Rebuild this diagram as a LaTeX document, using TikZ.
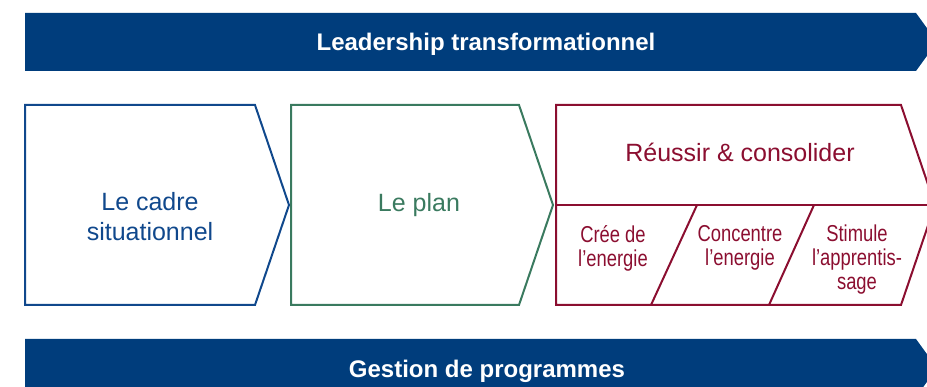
\documentclass[tikz,border=0pt]{standalone}
\usepackage{fontspec}
\setmainfont{Liberation Sans}
\newfontfamily\condfont[FakeStretch=0.8]{Liberation Sans}

\definecolor{bannerblue}{RGB}{0,61,124}
\definecolor{cadreblue}{RGB}{16,72,140}
\definecolor{plangreen}{RGB}{58,122,95}
\definecolor{reussired}{RGB}{139,14,48}

\newcommand\boxtop{105}
\newcommand\boxmid{205}
\newcommand\boxbot{305}
\newcommand\tipwidth{34}
\newcommand\phasebox[3]{
  \draw[phase, #1] (#2, \boxtop) -- (#3, \boxtop) -- ++ (\tipwidth, 100) -- (#3, \boxbot) -- (#2, \boxbot) -- cycle ;
}
\newcommand\banner[2]{
  \fill[bannerblue] (25, #1) -- (916, #1) -- ++ (21, 29) -- (916, #2) -- (25, #2) -- cycle ;
}

\tikzset{
  phase/.style={line width=2pt, line join=miter},
  bannertext/.style={text=white, font=\bfseries\fontsize{24}{28}\selectfont, anchor=base, inner sep=0pt},
  phasetext/.style={font=\fontsize{25}{30}\selectfont, align=center, inner sep=0pt},
  steptext/.style={text=reussired, font=\condfont\fontsize{23}{24}\selectfont, align=center, inner sep=0pt}
}

\begin{document}
\begin{tikzpicture}[x=1pt, y=-1pt]
    \clip (0, 0) rectangle (927, 387) ;
    \banner{13}{71}
    \node (leadership) [bannertext] at (486, 51) {Leadership transformationnel} ;
    \phasebox{cadreblue}{25}{255}
    \phasebox{plangreen}{291}{519}
    \phasebox{reussired}{556}{901}
    \draw[phase, reussired] (556, \boxmid) -- (940, \boxmid) ;
    \draw[phase, reussired] (697, \boxmid) -- (651, \boxbot) ;
    \draw[phase, reussired] (814, \boxmid) -- (769, \boxbot) ;
    \node (cadre) [phasetext, text=cadreblue] at (150, 217) {Le cadre\\situationnel} ;
    \node (plan) [phasetext, text=plangreen, anchor=base] at (419, 212) {Le plan} ;
    \node (reussir) [phasetext, text=reussired, anchor=base] at (740, 162) {Réussir \& consolider} ;
    \node (cree) [steptext] at (613, 248) {Crée de\\l’energie} ;
    \node (concentre) [steptext] at (740, 248) {Concentre\\l’energie} ;
    \node (stimule) [steptext] at (857, 260) {Stimule\\l’apprentis-\\sage} ;
    \banner{339}{397}
    \node (gestion) [bannertext] at (487, 378) {Gestion de programmes} ;
\end{tikzpicture}
\end{document}
